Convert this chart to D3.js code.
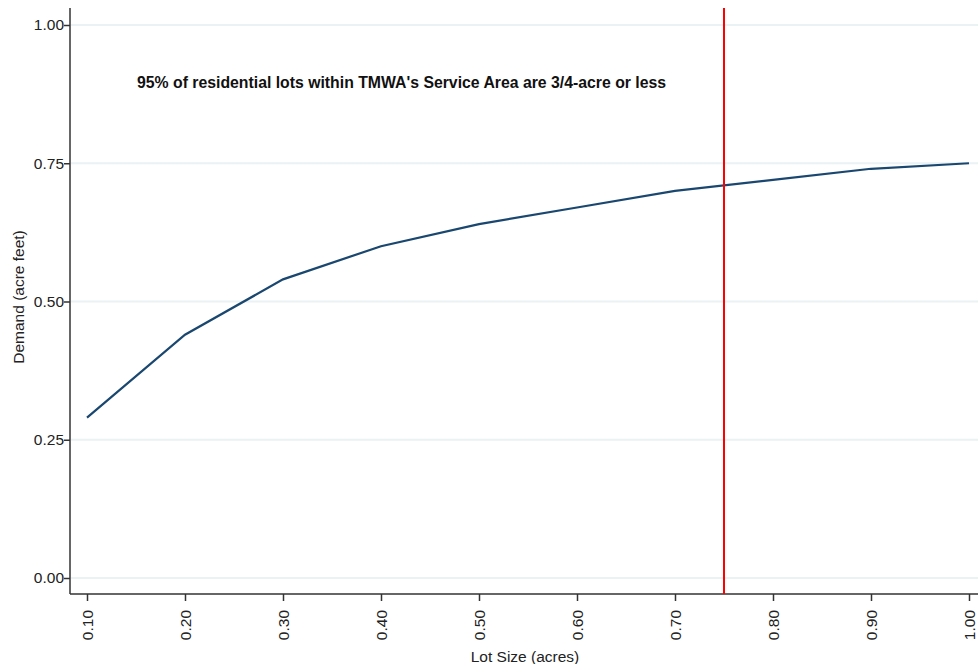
<!DOCTYPE html>
<html>
<head>
<meta charset="utf-8" />
<script src="https://d3js.org/d3.v7.min.js"></script>
<style>
  body { margin: 0; background: #fff; }
  svg { font-family: "Liberation Sans", Arial, sans-serif; }
</style>
</head>
<body>
<svg width="978" height="664"></svg>
<script>
const lotSize = [0.1, 0.2, 0.3, 0.4, 0.5, 0.6, 0.7, 0.8, 0.9, 1.0]
const demand = [0.29, 0.44, 0.54, 0.60, 0.64, 0.67, 0.70, 0.72, 0.74, 0.75]
const xTicks = [0.1, 0.2, 0.3, 0.4, 0.5, 0.6, 0.7, 0.8, 0.9, 1.0]
const yTicks = [0, 0.25, 0.5, 0.75, 1.0]
const cutoff = 0.75
const note = "95% of residential lots within TMWA's Service Area are 3/4-acre or less"

const svg = d3.select('svg')
const plotLeft = 70, plotRight = 978, plotTop = 8, plotBottom = 594

// scales set up so 0.10 -> 87px, 1.00 -> 969px, 0 -> 578px, 1 -> 25px
const x = d3.scaleLinear().domain([0.1, 1.0]).range([87, 969])
const y = d3.scaleLinear().domain([0, 1]).range([578, 25])

// gridlines
svg.append('g')
  .selectAll('line')
  .data(yTicks)
  .enter()
  .append('line')
  .attr('x1', plotLeft + 1)
  .attr('x2', plotRight)
  .attr('y1', d => y(d))
  .attr('y2', d => y(d))
  .style('stroke', '#eaf2f3')
  .style('stroke-width', '2px')

// y axis
const yAxis = svg.append('g')
  .attr('transform', `translate(${plotLeft},0)`)
  .call(d3.axisLeft(y).tickValues(yTicks).tickFormat(d3.format('.2f')).tickSize(6).tickSizeOuter(0))
yAxis.select('.domain').remove()
yAxis.append('line')
  .attr('x1', 0).attr('x2', 0)
  .attr('y1', plotTop).attr('y2', plotBottom)
  .style('stroke', '#333').style('stroke-width', '1.5px')
yAxis.selectAll('.tick line').style('stroke', '#333').style('stroke-width', '1.5px')
yAxis.selectAll('.tick text')
  .attr('x', -6)
  .style('font-size', '15.5px')
  .style('fill', '#222')
  .style('font-family', '"Liberation Sans", Arial, sans-serif')

// x axis
const xAxis = svg.append('g')
  .attr('transform', `translate(0,${plotBottom})`)
  .call(d3.axisBottom(x).tickValues(xTicks).tickFormat(d3.format('.2f')).tickSize(7).tickSizeOuter(0))
xAxis.select('.domain').remove()
xAxis.append('line')
  .attr('x1', plotLeft).attr('x2', plotRight)
  .attr('y1', 0).attr('y2', 0)
  .style('stroke', '#333').style('stroke-width', '1.5px')
xAxis.selectAll('.tick line').style('stroke', '#333').style('stroke-width', '1.5px')
xAxis.selectAll('.tick text')
  .attr('transform', 'rotate(-90)')
  .attr('x', -16)
  .attr('y', 0)
  .attr('dy', '0.35em')
  .attr('text-anchor', 'end')
  .style('font-size', '15.5px')
  .style('fill', '#222')
  .style('font-family', '"Liberation Sans", Arial, sans-serif')

// demand line
const line = d3.line()
  .x((d, i) => x(lotSize[i]))
  .y(d => y(d))
svg.append('path')
  .datum(demand)
  .attr('d', line)
  .style('fill', 'none')
  .style('stroke', '#1a476f')
  .style('stroke-width', '2.2px')

// cutoff line
svg.append('line')
  .attr('x1', x(cutoff)).attr('x2', x(cutoff))
  .attr('y1', plotTop).attr('y2', plotBottom)
  .style('stroke', '#ff0000')
  .style('stroke-width', '2px')

// annotation
svg.append('text')
  .attr('x', 137)
  .attr('y', 88)
  .style('font-size', '15.8px')
  .style('font-weight', 'bold')
  .style('fill', '#111')
  .text(note)

// axis titles
svg.append('text')
  .attr('transform', 'translate(24,297) rotate(-90)')
  .attr('text-anchor', 'middle')
  .style('font-size', '15.5px')
  .style('fill', '#222')
  .text('Demand (acre feet)')

svg.append('text')
  .attr('x', 525)
  .attr('y', 662)
  .attr('text-anchor', 'middle')
  .style('font-size', '15.5px')
  .style('fill', '#222')
  .text('Lot Size (acres)')
</script>
</body>
</html>
